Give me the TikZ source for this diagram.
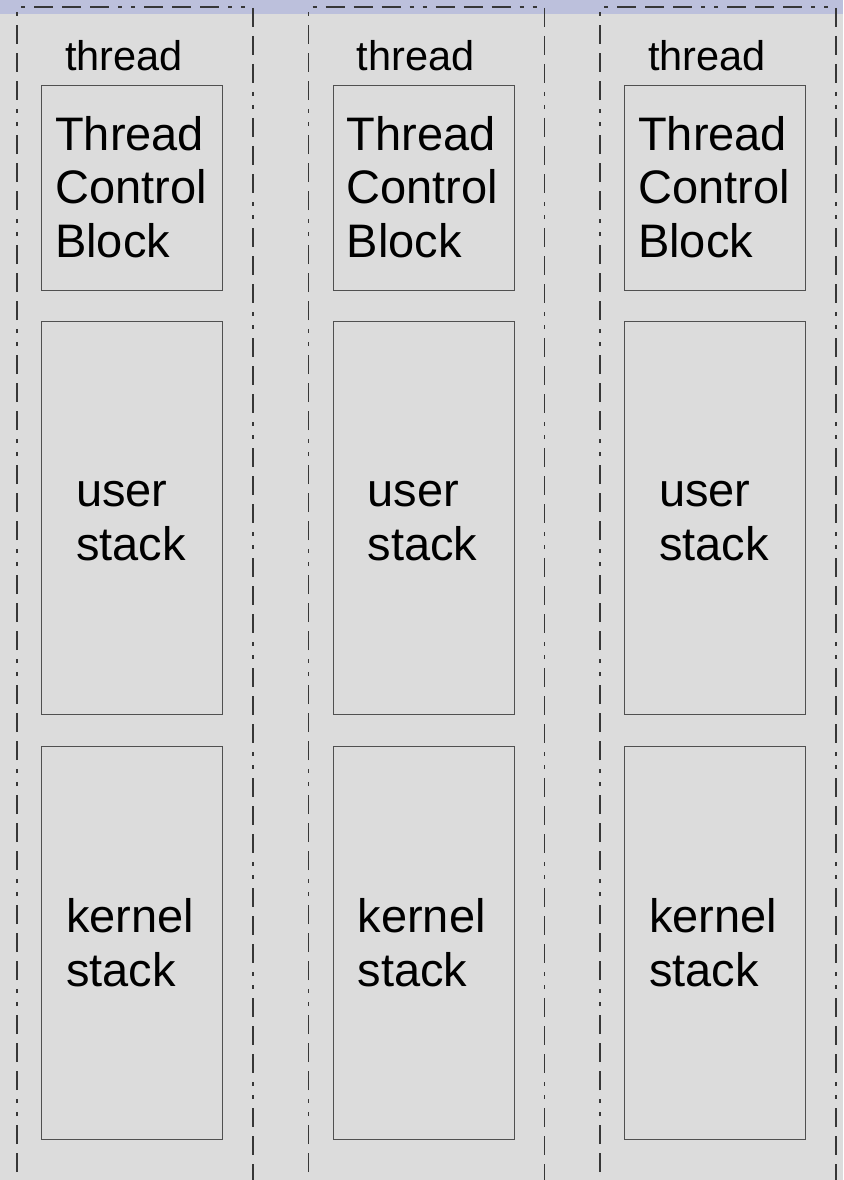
\documentclass[tikz,border=0pt]{standalone}
\usepackage{fontspec}
\setmainfont{Liberation Sans}
\definecolor{canvas}{RGB}{220,220,220}
\definecolor{topband}{RGB}{188,192,220}
\definecolor{edge}{RGB}{80,80,80}
\definecolor{frameedge}{RGB}{55,55,55}
\begin{document}
\begin{tikzpicture}[x=1pt,y=-1pt,
  memblock/.style={draw=edge, line width=1pt, fill=canvas, rectangle, inner sep=0pt,
    minimum width=181pt, anchor=north west},
  threadframe/.style={draw=frameedge, line width=1.2pt,
    dash pattern=on 19pt off 9pt on 19pt off 9pt on 19pt off 9pt on 4pt off 9pt on 4pt off 9pt},
  label/.style={font=\fontsize{47}{53.5}\selectfont, align=left, anchor=base west, inner sep=0pt},
  caption/.style={font=\fontsize{41.5}{47}\selectfont, anchor=base west, inner sep=0pt}]
  % canvas and the band along the top
  \fill[canvas] (0,0) rectangle (843,1180);
  \fill[topband] (0,0) rectangle (843,14);
  \useasboundingbox (0,0) rectangle (843,1180);
  \begin{scope}
    \clip (0,0) rectangle (843,1180);
    \foreach \i/\dx in {1/0, 2/291.5, 3/583} {
      \begin{scope}[xshift=\dx]
        % dash-dot outline of one thread
        \draw[threadframe] (17,1200) |- (253,7) -- (253,1200);
        % memory blocks
        \node[memblock, minimum height=205pt] (tcb\i) at (41,85) {};
        \node[memblock, minimum height=393pt] (ustack\i) at (41,321) {};
        \node[memblock, minimum height=393pt] (kstack\i) at (41,746) {};
        % texts (anchored at the baseline of their last line)
        \node[caption] (name\i) at (65,71) {thread};
        \node[label] (tcbtext\i) at (55,257) {Thread\\Control\\Block};
        \node[label] (utext\i) at (76,560) {user\\stack};
        \node[label] (ktext\i) at (66,986) {kernel\\stack};
      \end{scope}
    }
  \end{scope}
\end{tikzpicture}
\end{document}
